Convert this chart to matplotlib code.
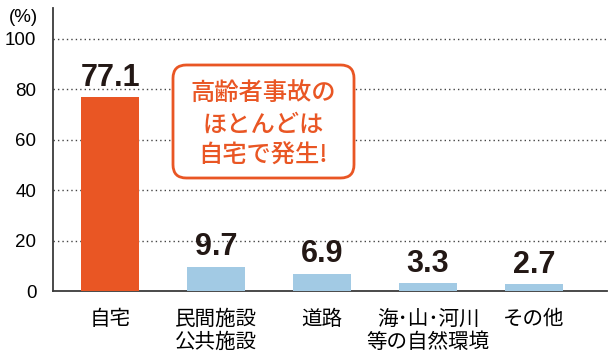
import matplotlib.pyplot as plt
import numpy as np
from matplotlib.patches import FancyBboxPatch

categories = ['自宅', '民間施設\n公共施設', '道路', '海･山･河川\n等の自然環境', 'その他']
values = [77.1, 9.7, 6.9, 3.3, 2.7]
value_labels = ['77.1', '9.7', '6.9', '3.3', '2.7']
yticks = [0, 20, 40, 60, 80, 100]
note = '高齢者事故の\nほとんどは\n自宅で発生!'

orange = '#E95624'
blue = '#A2CAE4'
colors = [orange] + [blue] * 4

fig = plt.figure(figsize=(6.1, 3.6), dpi=100)
ax = fig.add_axes([53/610, 69/360, 554/610, 283/360])

x = np.arange(len(values))
ax.bar(x, values, width=0.55, color=colors, zorder=3)

for xi, v, lab in zip(x, values, value_labels):
    ax.annotate(lab, (xi, v), xytext=(0, 3), textcoords='offset points',
                ha='center', va='bottom', fontsize=22, fontweight='bold',
                family='Liberation Sans', color='#231815')

ax.set_xlim(-0.54, 4.69)
ax.set_ylim(0, 112.3)
ax.set_yticks(yticks)
ax.set_yticklabels([str(t) for t in yticks], family='Liberation Sans', fontsize=13.5)
for t in yticks[1:]:
    ax.axhline(t, color='#444444', lw=1, ls=(0, (1, 2.2)), zorder=1)

ax.set_xticks(x)
ax.set_xticklabels(categories, family=['Noto Sans CJK JP', 'DejaVu Sans'],
                   fontsize=14.8, linespacing=1.1, va='top')
ax.tick_params(length=0)
ax.tick_params(axis='x', pad=12)
ax.tick_params(axis='y', pad=12)

for s in ['top', 'right']:
    ax.spines[s].set_visible(False)
ax.spines['left'].set_color('#3a3a3a')
ax.spines['bottom'].set_color('#3a3a3a')
ax.spines['left'].set_linewidth(1.3)
ax.spines['bottom'].set_linewidth(1.3)

fig.text(23/610, 1 - 17/360, '(%)', ha='center', va='center',
         family='Liberation Sans', fontsize=13.5)

# callout box
bx0, bx1 = (173-53)/554, (354-53)/554
by0, by1 = (291-178)/283, (291-65)/283
box = FancyBboxPatch((bx0, by0), bx1-bx0, by1-by0,
                     boxstyle='round,pad=0,rounding_size=0.024',
                     mutation_aspect=554/283, transform=ax.transAxes,
                     facecolor='white', edgecolor=orange, lw=2, zorder=5)
ax.add_patch(box)
ax.text((bx0+bx1)/2, (by0+by1)/2 - 0.01, note, transform=ax.transAxes,
        ha='center', va='center', fontsize=17.5, color=orange,
        family=['Noto Sans CJK JP', 'DejaVu Sans'], fontweight='medium',
        linespacing=1.25, zorder=6)

fig.savefig('out.png', dpi=100)
